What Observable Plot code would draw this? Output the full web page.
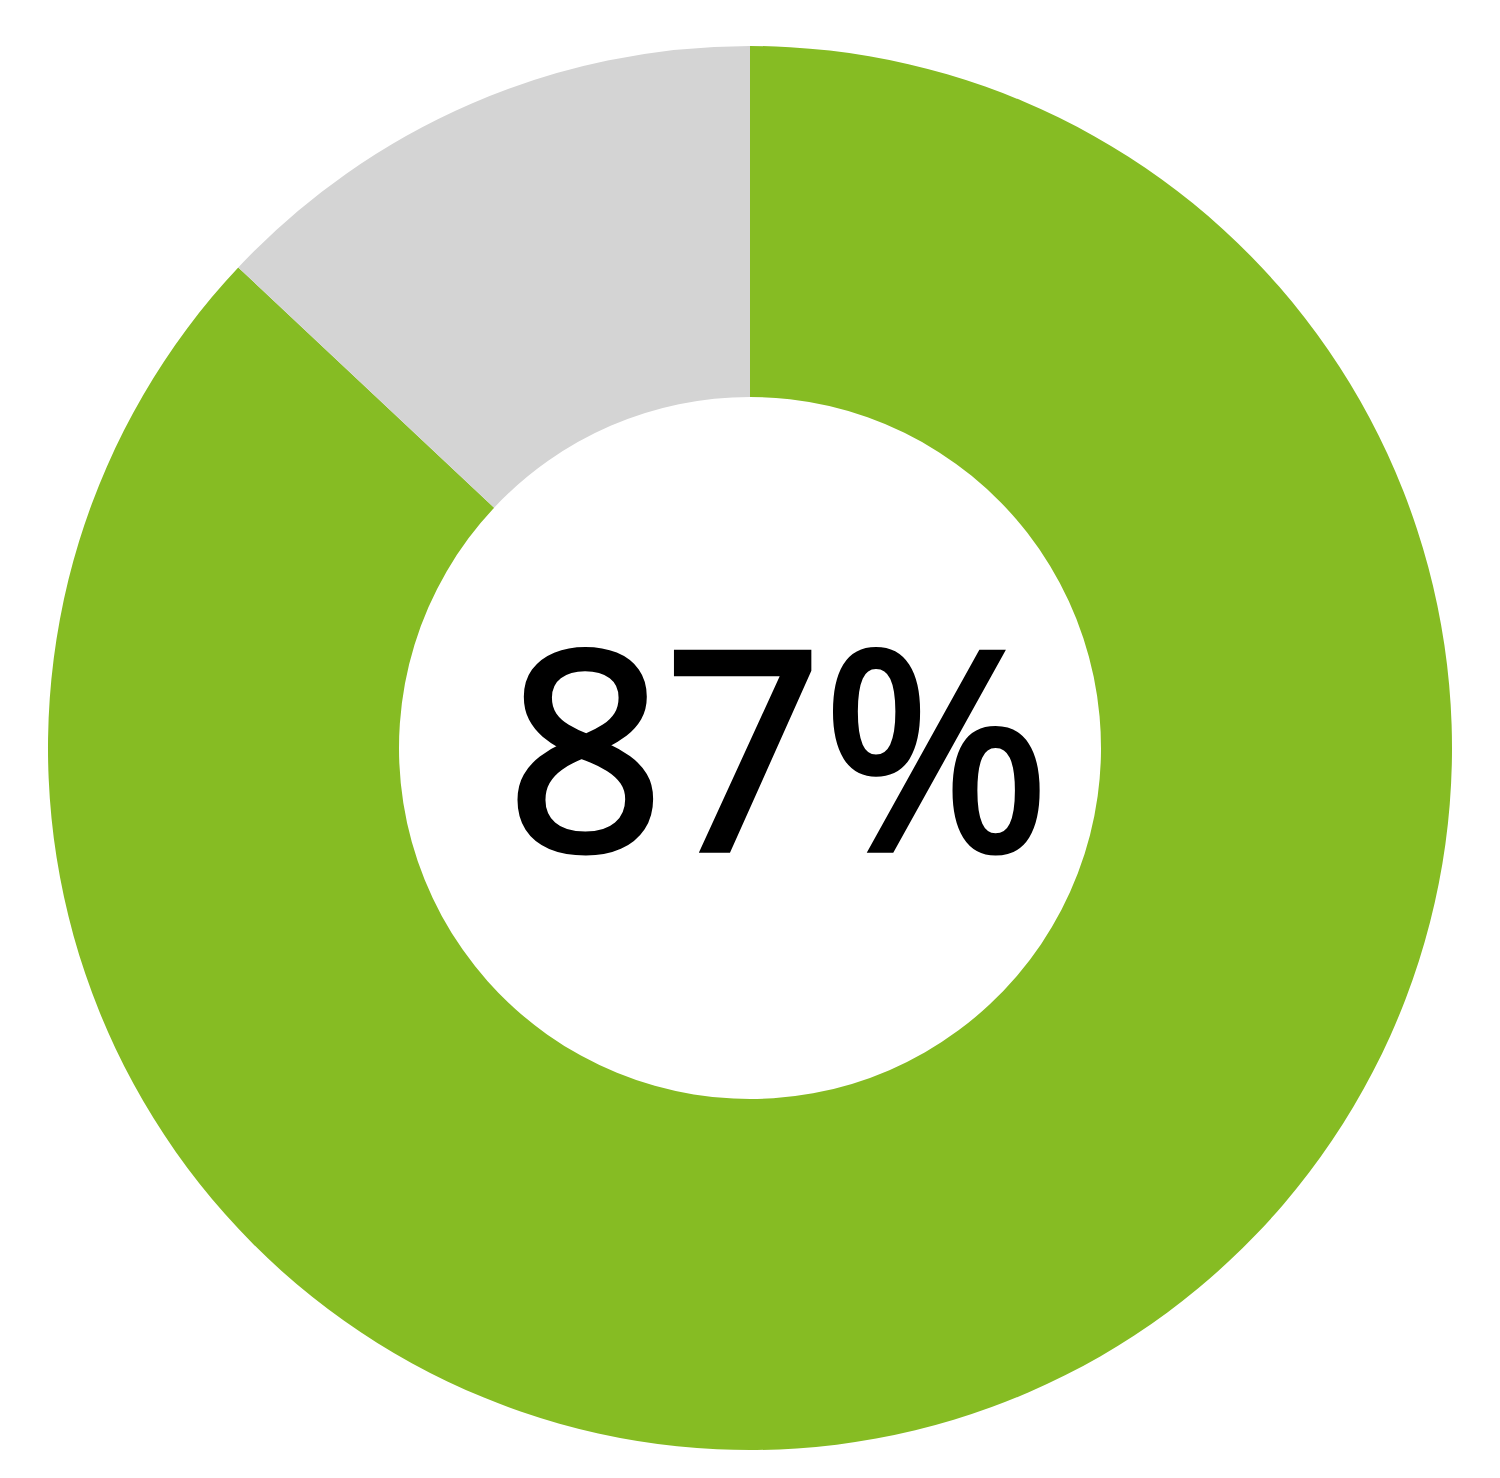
<!DOCTYPE html>
<html>
<head>
<meta charset="utf-8">
<script src="https://cdn.jsdelivr.net/npm/d3@7"></script>
<script src="https://cdn.jsdelivr.net/npm/@observablehq/plot@0.6"></script>
<style>
  html, body { margin: 0; padding: 0; background: #fff; }
  #chart svg { display: block; }
</style>
</head>
<body>
<div id="chart"></div>
<script>
const labels = ["Yes", "No"];
const values = [87, 13];
const colors = ["#86BC23", "#D4D4D4"];
const centerLabel = "87%";
const innerRatio = 0.5;

const slices = labels.map((label, i) => ({label, value: values[i]}));

function donut(index, scales, channels, dimensions, context) {
  const cx = scales.x(0), cy = scales.y(0);
  const ro = scales.x(1) - scales.x(0);
  const color = scales.color ? scales.color : (l => colors[labels.indexOf(l)]);
  const arcs = d3.pie().sort(null).value(d => d.value)(slices);
  const arc = d3.arc().innerRadius(ro * innerRatio).outerRadius(ro);
  const g = d3.create("svg:g").attr("transform", `translate(${cx},${cy})`);
  g.selectAll("path").data(arcs).join("path")
    .attr("d", arc)
    .attr("fill", d => color(d.data.label))
    .attr("stroke", "none");
  return g.node();
}

const chart = Plot.plot({
  width: 1500,
  height: 1478,
  marginTop: 46,
  marginBottom: 28,
  marginLeft: 48,
  marginRight: 48,
  x: {domain: [-1, 1], axis: null},
  y: {domain: [-1, 1], axis: null},
  color: {domain: labels, range: colors},
  style: {background: "#fff"},
  marks: [
    Plot.dot(slices, {x: () => 0, y: () => 0, fill: "label", r: 0}),
    donut,
    Plot.text([centerLabel], {
      x: () => 0, y: () => 0, text: d => d,
      fontSize: 276, fontFamily: "Open Sans, Noto Sans, sans-serif", fontWeight: 400,
      fill: "#000", stroke: "#000", strokeWidth: 6, strokeLinejoin: "miter",
      textAnchor: "middle", lineAnchor: "middle", dx: 28, dy: 13
    })
  ]
});
document.getElementById("chart").appendChild(chart);
</script>
</body>
</html>
